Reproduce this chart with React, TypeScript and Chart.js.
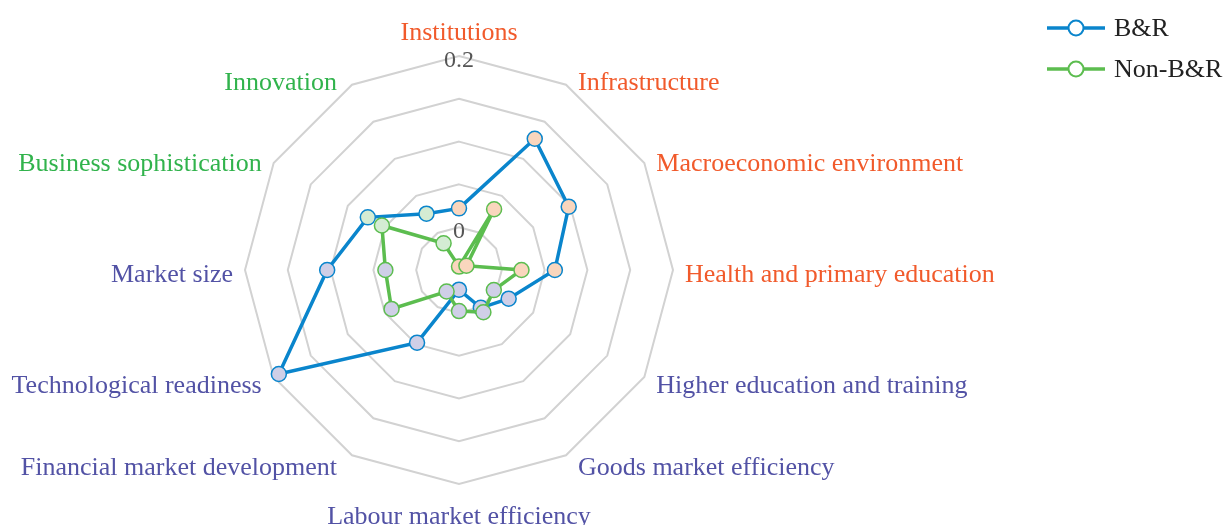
import React, { useEffect, useRef } from "react";
import { Chart, registerables } from "chart.js";

Chart.register(...registerables);

const categories = [
  "Institutions",
  "Infrastructure",
  "Macroeconomic environment",
  "Health and primary education",
  "Higher education and training",
  "Goods market efficiency",
  "Labour market efficiency",
  "Financial market development",
  "Technological readiness",
  "Market size",
  "Business sophistication",
  "Innovation",
];

// pillar group of each category: 0 basic requirements, 1 efficiency enhancers, 2 innovation factors
const categoryGroups = [0, 0, 0, 0, 1, 1, 1, 1, 1, 1, 2, 2];

const seriesNames = ["B&R", "Non-B&R"];
const brValues = [0.022, 0.127, 0.098, 0.062, 0.017, 0.001, -0.027, 0.048, 0.193, 0.104, 0.073, 0.026];
const nonBrValues = [-0.046, 0.032, -0.04, 0.023, -0.003, 0.007, -0.002, -0.021, 0.041, 0.036, 0.054, -0.014];

const axisMin = -0.05;
const axisMax = 0.2;
const axisStep = 0.05;
const shownTickValues = [0, 0.2];
const shownTickLabels = ["0", "0.2"];

const FONT = "'Liberation Serif', 'Times New Roman', serif";
const seriesColors = ["#0a85cc", "#5cbd4f"];
const groupLabelColors = ["#f15a2b", "#5252a5", "#31b34c"];
const groupPointFills = ["#f9d6bd", "#cfcfe7", "#d4ecd3"];

const labelPlugin = {
  id: "categoryLabels",
  afterDraw(chart: any) {
    const scale = chart.scales.r;
    const ctx = chart.ctx;
    const R = scale.drawingArea;
    ctx.save();
    ctx.font = `26px ${FONT}`;
    categories.forEach((text, i) => {
      const ang = scale.getIndexAngle(i);
      const s = Math.sin(ang);
      const c = Math.cos(ang);
      const v = scale.getPointPosition(i, R);
      ctx.fillStyle = groupLabelColors[categoryGroups[i]];
      let x = v.x;
      let y = v.y;
      if (Math.abs(s) < 0.01) {
        ctx.textAlign = "center";
        ctx.textBaseline = "alphabetic";
        y = c > 0 ? v.y - 16 : v.y + 40;
      } else {
        ctx.textAlign = s > 0 ? "left" : "right";
        ctx.textBaseline = "middle";
        const extra = Math.abs(c) > 0.8 && s < 0 ? 3 : 0;
        x = v.x + (s > 0 ? 12 : -12 - extra);
        y = v.y + 5.5 - 8 * c;
      }
      ctx.fillText(text, x, y);
    });
    // radial tick labels, positioned through the scale
    ctx.font = `24px ${FONT}`;
    ctx.fillStyle = "#555555";
    ctx.textAlign = "center";
    ctx.textBaseline = "middle";
    shownTickValues.forEach((val, i) => {
      const d = scale.getDistanceFromCenterForValue(val);
      ctx.fillText(shownTickLabels[i], scale.xCenter, scale.yCenter - d + 5);
    });
    ctx.restore();
  },
};

const legendPlugin = {
  id: "lineLegend",
  afterDraw(chart: any) {
    const ctx = chart.ctx;
    ctx.save();
    seriesNames.forEach((name, i) => {
      const y = 28 + i * 41;
      const color = seriesColors[i];
      ctx.strokeStyle = color;
      ctx.lineWidth = 3.5;
      ctx.beginPath();
      ctx.moveTo(1047, y);
      ctx.lineTo(1105, y);
      ctx.stroke();
      ctx.beginPath();
      ctx.arc(1076, y, 7.5, 0, Math.PI * 2);
      ctx.fillStyle = "#ffffff";
      ctx.fill();
      ctx.lineWidth = 2;
      ctx.stroke();
      ctx.fillStyle = "#222222";
      ctx.font = `26px ${FONT}`;
      ctx.textAlign = "left";
      ctx.textBaseline = "middle";
      ctx.fillText(name, 1114, y + 1);
    });
    ctx.restore();
  },
};

export default function App() {
  const canvasRef = useRef<HTMLCanvasElement | null>(null);

  useEffect(() => {
    if (!canvasRef.current) return;
    const pointFills = categoryGroups.map((g) => groupPointFills[g]);
    const chart = new Chart(canvasRef.current, {
      type: "radar",
      data: {
        labels: categories,
        datasets: [
          {
            label: seriesNames[0],
            data: brValues,
            borderColor: seriesColors[0],
            borderWidth: 3.5,
            pointBackgroundColor: pointFills,
            pointBorderColor: seriesColors[0],
            pointBorderWidth: 1.5,
            pointRadius: 7.5,
            fill: false,
            order: 1,
          },
          {
            label: seriesNames[1],
            data: nonBrValues,
            borderColor: seriesColors[1],
            borderWidth: 3.5,
            pointBackgroundColor: pointFills,
            pointBorderColor: seriesColors[1],
            pointBorderWidth: 1.5,
            pointRadius: 7.5,
            fill: false,
            order: 0,
          },
        ],
      },
      options: {
        responsive: false,
        animation: false,
        layout: { padding: { left: 245, right: 549, top: 56, bottom: 40 } },
        plugins: {
          legend: { display: false },
          tooltip: { enabled: false },
        },
        elements: { line: { tension: 0 } },
        scales: {
          r: {
            min: axisMin,
            max: axisMax,
            angleLines: { display: false },
            grid: { color: "#d2d2d2", lineWidth: 2 },
            pointLabels: { display: false },
            ticks: {
              display: false,
              stepSize: axisStep,
            },
          },
        },
      },
      plugins: [labelPlugin, legendPlugin],
    });
    return () => chart.destroy();
  }, []);

  return (
    <div style={{ position: "absolute", left: 0, top: 0, width: 1223, height: 525, background: "#fff" }}>
      <canvas ref={canvasRef} width={1223} height={525} />
    </div>
  );
}
